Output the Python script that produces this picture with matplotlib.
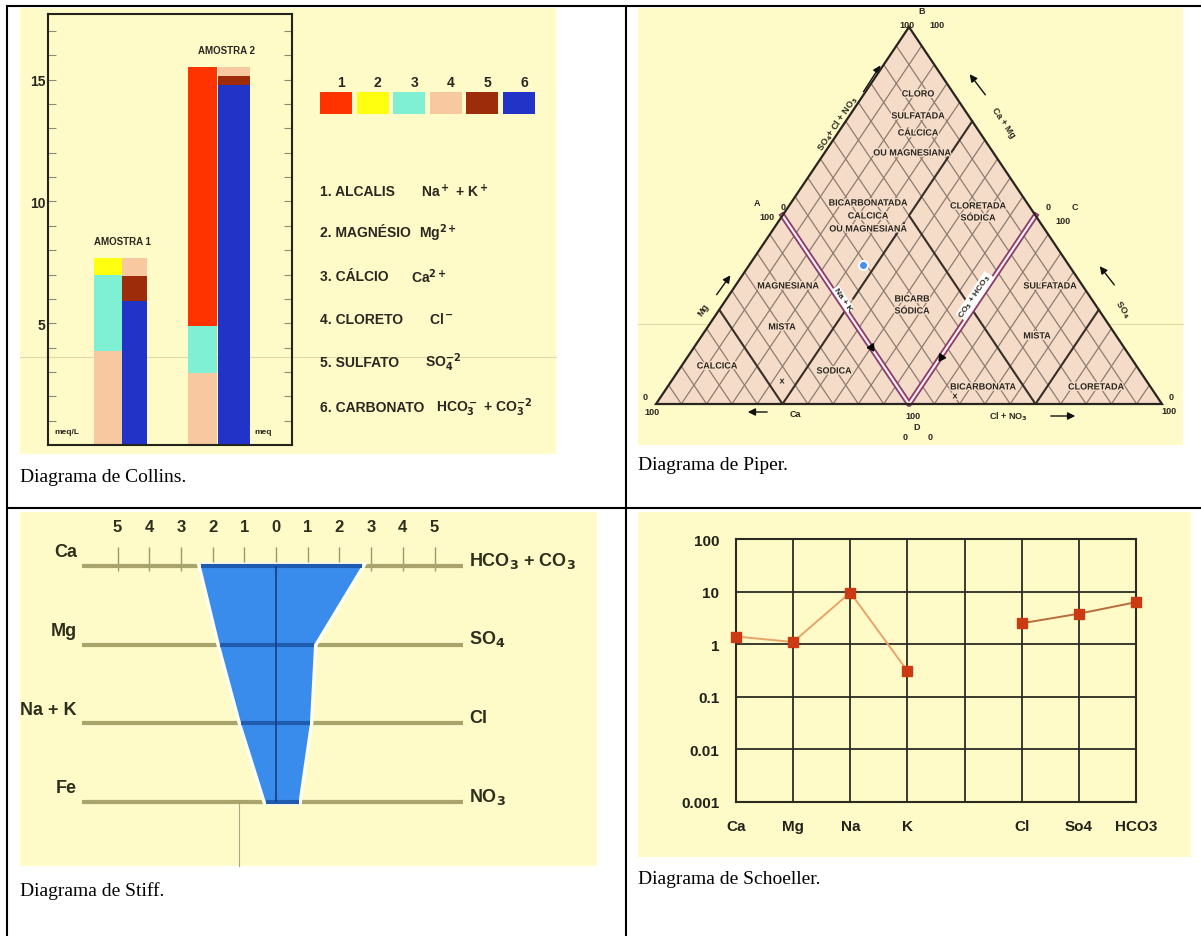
import numpy as np
import matplotlib
matplotlib.use("Agg")
import matplotlib.pyplot as plt
import matplotlib.patheffects as pe
from matplotlib.patches import Polygon, Rectangle
from matplotlib.ticker import FixedLocator, NullLocator, NullFormatter

plt.rcParams['font.family'] = ['Liberation Sans', 'DejaVu Sans']
plt.rcParams['mathtext.default'] = 'bf'

W, H = 1201, 937

# ---------------- dados ----------------
# Collins (meq/L), segmentos empilhados de baixo para cima e codigo da legenda
a1_cations = [3.85, 3.15, 0.68]
a1_cation_codes = [4, 3, 2]
a1_anions = [5.9, 1.03, 0.75]
a1_anion_codes = [6, 5, 4]
a2_cations = [2.96, 1.92, 10.65]
a2_cation_codes = [4, 3, 1]
a2_anions = [14.78, 0.37, 0.38]
a2_anion_codes = [6, 5, 4]
collins_samples = ["AMOSTRA 1", "AMOSTRA 2"]
legend_names = ["ALCALIS", "MAGNÉSIO", "CÁLCIO", "CLORETO", "SULFATO", "CARBONATO"]
legend_ions = [r"Na$^+$ + K$^+$", r"Mg$^{2+}$", r"Ca$^{2+}$", r"Cl$^-$",
               r"SO$_4^{-2}$", r"HCO$_3^-$ + CO$_3^{-2}$"]

# Piper (% no losango)
piper_ca_mg = [55]
piper_so4_cl = [19]

# Stiff (meq/L)
stiff_cations = ["Ca", "Mg", "Na + K", "Fe"]
stiff_anions = [r"HCO$_3$ + CO$_3$", r"SO$_4$", "Cl", r"NO$_3$"]
stiff_cation_meq = [2.37, 1.77, 1.1, 0.32]
stiff_anion_meq = [2.7, 1.2, 1.07, 0.71]
stiff_scale = [5, 4, 3, 2, 1, 0, 1, 2, 3, 4, 5]

# Schoeller (meq/L)
schoeller_ions = ["Ca", "Mg", "Na", "K", "", "Cl", "So4", "HCO3"]
schoeller_cations = [1.4, 1.1, 9.6, 0.31]
schoeller_anions = [2.5, 3.8, 6.3]
schoeller_yticks = [0.001, 0.01, 0.1, 1, 10, 100]
schoeller_ylabels = ["0.001", "0.01", "0.1", "1", "10", "100"]

palette = ["#ff3300", "#ffff10", "#7ff0d4", "#f8c8a0", "#9c2c0a", "#2233c8"]
yellow = "#fefbc8"
ink = "#2a2620"


def px_axes(x0, y0, x1, y1):
    return fig.add_axes([x0 / W, 1 - y1 / H, (x1 - x0) / W, (y1 - y0) / H])


fig = plt.figure(figsize=(W / 100, H / 100), dpi=100)
fig.patch.set_facecolor("white")

# fundo em pixels: tabela, fundos amarelos, legendas
bg = px_axes(0, 0, W, H)
bg.set_xlim(0, W)
bg.set_ylim(H, 0)
bg.axis('off')
for (x0, y0, x1, y1) in [(20, 9, 556, 455), (638, 9, 1183, 446),
                         (20, 513, 597, 867), (638, 513, 1191, 858)]:
    bg.add_patch(Rectangle((x0, y0), x1 - x0, y1 - y0, facecolor=yellow, edgecolor='none'))
bg.plot([20, 556], [358, 358], color="#dedba6", lw=0.8)
bg.plot([638, 1183], [325, 325], color="#dedba6", lw=0.8)
bg.plot([239, 239], [803, 867], color="#a8a88a", lw=0.8)
tl = dict(color="black", lw=1.5, solid_capstyle='butt')
bg.plot([6, W], [7, 7], **tl)
bg.plot([7, 7], [6, H], **tl)
bg.plot([626, 626], [7, H], **tl)
bg.plot([7, W], [509, 509], **tl)
cap = dict(family=['Liberation Serif', 'DejaVu Serif'], fontsize=14, va='center', ha='left')
bg.text(20, 478, "Diagrama de Collins.", **cap)
bg.text(638, 466, "Diagrama de Piper.", **cap)
bg.text(20, 891, "Diagrama de Stiff.", **cap)
bg.text(638, 880, "Diagrama de Schoeller.", **cap)

# legenda Collins
for i in range(6):
    x0 = 320 + 36.6 * i
    bg.add_patch(Rectangle((x0, 93), 32, 22, facecolor=palette[i], edgecolor='none'))
    bg.text(x0 + 21, 83, str(i + 1), fontsize=10, fontweight='bold', ha='center', va='center', color=ink)
row_y = [192, 233, 277, 320, 363, 408]
ion_x = [421, 419, 411, 429, 425, 436]
for i in range(6):
    bg.text(320, row_y[i], f"{i + 1}. {legend_names[i]}", fontsize=10, fontweight='bold',
            va='center', color=ink)
    bg.text(ion_x[i], row_y[i], legend_ions[i], fontsize=10, fontweight='bold', va='center', color=ink)

# ---------------- Collins ----------------
axc = px_axes(48, 15, 292, 446)
axc.set_facecolor('none')
axc.set_xlim(0, 10)
axc.set_ylim(0, 17.7)
bars = [(a1_cations, a1_cation_codes), (a1_anions, a1_anion_codes),
        (a2_cations, a2_cation_codes), (a2_anions, a2_anion_codes)]
bar_x = [2.46, 3.54, 6.33, 7.62]
bar_w = [1.15, 1.02, 1.19, 1.31]
for (vals, codes), x, w in zip(bars, bar_x, bar_w):
    bottom = 0
    for v, c in zip(vals, codes):
        axc.bar(x, v, bottom=bottom, width=w, color=palette[c - 1], edgecolor='none')
        bottom += v
tops = [sum(a1_cations), sum(a2_cations)]
axc.text(3.07, tops[0] + 0.7, collins_samples[0], fontsize=7, fontweight='bold', ha='center', va='center', color=ink)
axc.text(7.3, tops[1] + 0.7, collins_samples[1], fontsize=7, fontweight='bold', ha='center', va='center', color=ink)
axc.text(0.25, 0.55, "meq/L", fontsize=6, fontweight='bold', va='center', color=ink)
axc.text(8.45, 0.55, "meq", fontsize=6, fontweight='bold', va='center', color=ink)
axc.set_xticks([])
axc.yaxis.set_major_locator(FixedLocator([5, 10, 15]))
axc.yaxis.set_minor_locator(FixedLocator(np.arange(1, 18)))
axc.yaxis.set_ticks_position('both')
axc.tick_params(axis='y', which='both', direction='in', length=5.5, width=0.8,
                color="#8c8c76", labelsize=10, pad=2, labelcolor=ink)
for lab in axc.get_yticklabels():
    lab.set_fontweight('bold')
for s in axc.spines.values():
    s.set_linewidth(1.5)
    s.set_color("#24241c")

# ---------------- Piper ----------------
axp = px_axes(638, 9, 1183, 446)
axp.set_facecolor('none')
axp.set_xlim((638 - 656) / 506, (1183 - 656) / 506)
axp.set_ylim((405 - 446) / 377, (405 - 9) / 377)
axp.axis('off')
axp.add_patch(Polygon([(0, 0), (1, 0), (0.5, 1)], closed=True, facecolor="#f4dcc8",
                      edgecolor='none', zorder=1))
n = 20
for i in range(1, n):
    t = i / n
    axp.plot([t, (1 + t) / 2], [0, 1 - t], color="#8e7c70", lw=0.9, zorder=2)
    axp.plot([t, t / 2], [0, t], color="#8e7c70", lw=0.9, zorder=2)
thick = dict(color="#3a3028", lw=1.5, zorder=3)
axp.plot([0.625, 0.5, 0.625], [0.75, 0.5, 0.25], **thick)
axp.plot([0.49, 0.39], [0.48, 0.28], **thick)
axp.plot([0.125, 0.25, 0.375], [0.25, 0, 0.25], **thick)
axp.plot([0.625, 0.75, 0.875], [0.25, 0, 0.25], **thick)
axp.plot([0.25, 0.5, 0.75], [0.5, 0, 0.5], color="#8a3c6c", lw=4.2, zorder=4)
axp.plot([0.25, 0.5, 0.75], [0.5, 0, 0.5], color="#fbeef0", lw=1.6, zorder=4)
axp.add_patch(Polygon([(0, 0), (1, 0), (0.5, 1)], closed=True, facecolor='none',
                      edgecolor="#2a241e", lw=1.6, zorder=5))
axp.plot([0.425], [0.15], marker=(3, 0, -146), color="black", ms=6, zorder=6)
axp.plot([0.5625], [0.125], marker=(3, 0, 146), color="black", ms=6, zorder=6)

# ponto da amostra
pa = np.array(piper_ca_mg) / 100
ps = np.array(piper_so4_cl) / 100
px_ = 0.5 - 0.25 * pa + 0.25 * ps
py_ = 0.5 * pa + 0.5 * ps
axp.plot(px_, py_, 'o', color="#4a8fe6", ms=6.5, mec="#f4f8ff", mew=1.5, zorder=7)

halo = [pe.withStroke(linewidth=2, foreground="#f4dcc8")]
region = [("CLORO", 918, 95), ("SULFATADA", 918, 117), ("CÁLCICA", 918, 134),
          ("OU MAGNESIANA", 912, 154), ("BICARBONATADA", 868, 204), ("CALCICA", 868, 217),
          ("OU MAGNESIANA", 868, 230), ("CLORETADA", 978, 207), ("SÓDICA", 978, 219),
          ("MAGNESIANA", 788, 287), ("BICARB", 912, 300), ("SÓDICA", 912, 312),
          ("SULFATADA", 1050, 287), ("MISTA", 782, 328), ("MISTA", 1037, 337),
          ("CALCICA", 717, 367), ("SODICA", 834, 372), ("BICARBONATA", 983, 388),
          ("CLORETADA", 1096, 388), ("x", 782, 382), ("x", 955, 397)]
for txt, x, y in region:
    axp.text(x, y, txt, transform=bg.transData, fontsize=6.5, fontweight='bold', ha='center',
             va='center', color=ink, zorder=8, path_effects=halo)
axp.text(843, 300, "Na + K", transform=bg.transData, rotation=-56, fontsize=6, fontweight='bold',
         ha='center', va='center', color=ink, zorder=8,
         bbox=dict(facecolor='white', edgecolor='none', pad=0.5))
axp.text(975, 297, r"CO$_3$ + HCO$_3$", transform=bg.transData, rotation=56, fontsize=6,
         fontweight='bold', ha='center', va='center', color=ink, zorder=8,
         bbox=dict(facecolor='white', edgecolor='none', pad=0.5))

small = dict(fontsize=6.5, fontweight='bold', ha='center', va='center', color=ink)
for txt, x, y in [("B", 922, 12), ("100", 907, 25), ("100", 937, 25), ("A", 757, 203),
                  ("100", 767, 217), ("0", 783, 208), ("0", 1048, 208), ("C", 1075, 208),
                  ("100", 1063, 222), ("0", 645, 398), ("100", 652, 413), ("0", 1171, 398),
                  ("100", 1169, 412), ("100", 913, 417), ("D", 917, 428), ("0", 905, 438),
                  ("0", 930, 438), ("Ca", 795, 415), (r"Cl + NO$_3$", 1008, 417)]:
    bg.text(x, y, txt, **small)
bg.text(838, 124, r"SO$_4$+ Cl + NO$_3$", rotation=56, **small)
bg.text(1003, 123, "Ca + Mg", rotation=-56, **small)
bg.text(703, 310, "Mg", rotation=56, **small)
bg.text(1122, 310, r"SO$_4$", rotation=-56, **small)
arr = dict(arrowstyle="-|>", color="#111111", lw=1.0, mutation_scale=11)
for tail, tip in [((862, 95), (882, 64)), ((987, 98), (968, 73)), ((715, 298), (732, 274)),
                  ((1116, 288), (1098, 265)), ((770, 413), (745, 413)), ((1048, 417), (1078, 417))]:
    bg.annotate("", xy=tip, xytext=tail, arrowprops=arr)

# ---------------- Stiff ----------------
axs = px_axes(20, 513, 597, 867)
axs.set_facecolor('none')
axs.axis('off')
unit = 31.7
row_h = 78.67
axs.set_xlim((20 - 276) / unit, (597 - 276) / unit)
axs.set_ylim((867 - 567) / row_h, (513 - 567) / row_h)
rows = np.arange(len(stiff_cations))
x_left, x_right = (82 - 276) / unit, (463 - 276) / unit
axs.hlines(rows, x_left, x_right, color="#a8a46c", lw=3, zorder=1)
scale_pos = np.arange(-5, 6)
axs.vlines(scale_pos, -0.24, 0.06, color="#9c9870", lw=1, zorder=0.5)
cat = np.array(stiff_cation_meq)
ani = np.array(stiff_anion_meq)
verts = list(zip(-cat, rows)) + list(zip(ani[::-1], rows[::-1]))
axs.add_patch(Polygon(verts, closed=True, facecolor="#3a8cec", edgecolor='none', zorder=2,
                      path_effects=[pe.withStroke(linewidth=5, foreground="#fffff2")]))
axs.hlines(rows, -cat, ani, color="#1f5cb0", lw=3, zorder=3)
axs.vlines(0, 0, rows[-1], color="#163c88", lw=1.2, zorder=4)
stf = dict(family=['Liberation Sans Narrow', 'Liberation Sans', 'DejaVu Sans'],
           fontweight='bold', color="#2e2e1c", va='center')
for p, s in zip(scale_pos, stiff_scale):
    axs.text(p, -0.5, str(s), fontsize=12, ha='center', **stf)
for r, lab in zip(rows, stiff_cations):
    axs.text((77 - 276) / unit, r - 0.18, lab, fontsize=13, ha='right', **stf)
for r, lab in zip(rows, stiff_anions):
    axs.text((469 - 276) / unit, r - 0.08, lab, fontsize=13, ha='left', **stf)

# ---------------- Schoeller ----------------
axh = px_axes(736, 540, 1136, 803)
axh.set_facecolor('none')
axh.set_yscale('log')
axh.set_xlim(0, len(schoeller_ions) - 1)
axh.set_ylim(0.001, 100)
axh.set_xticks(range(len(schoeller_ions)))
axh.set_xticklabels(schoeller_ions)
axh.yaxis.set_major_locator(FixedLocator(schoeller_yticks))
axh.yaxis.set_minor_locator(NullLocator())
axh.set_yticklabels(schoeller_ylabels)
axh.set_axisbelow(True)
axh.grid(True, color="#2b2b22", lw=1.3)
axh.tick_params(length=0, labelsize=11, labelcolor="#222218")
axh.tick_params(axis='y', pad=12)
axh.tick_params(axis='x', pad=12)
for lab in axh.get_xticklabels() + axh.get_yticklabels():
    lab.set_fontweight('bold')
for s in axh.spines.values():
    s.set_color("#2b2b22")
    s.set_linewidth(1.5)
xc = np.arange(len(schoeller_cations))
xa = np.arange(len(schoeller_anions)) + 5
axh.plot(xc, schoeller_cations, color="#e8a468", lw=1.4, zorder=3)
axh.plot(xa, schoeller_anions, color="#b86c3c", lw=1.4, zorder=3)
axh.plot(xc, schoeller_cations, 's', color="#cc3a14", ms=7, zorder=4, clip_on=False)
axh.plot(xa, schoeller_anions, 's', color="#cc3a14", ms=7, zorder=4, clip_on=False)

fig.savefig("out.png", dpi=100)
